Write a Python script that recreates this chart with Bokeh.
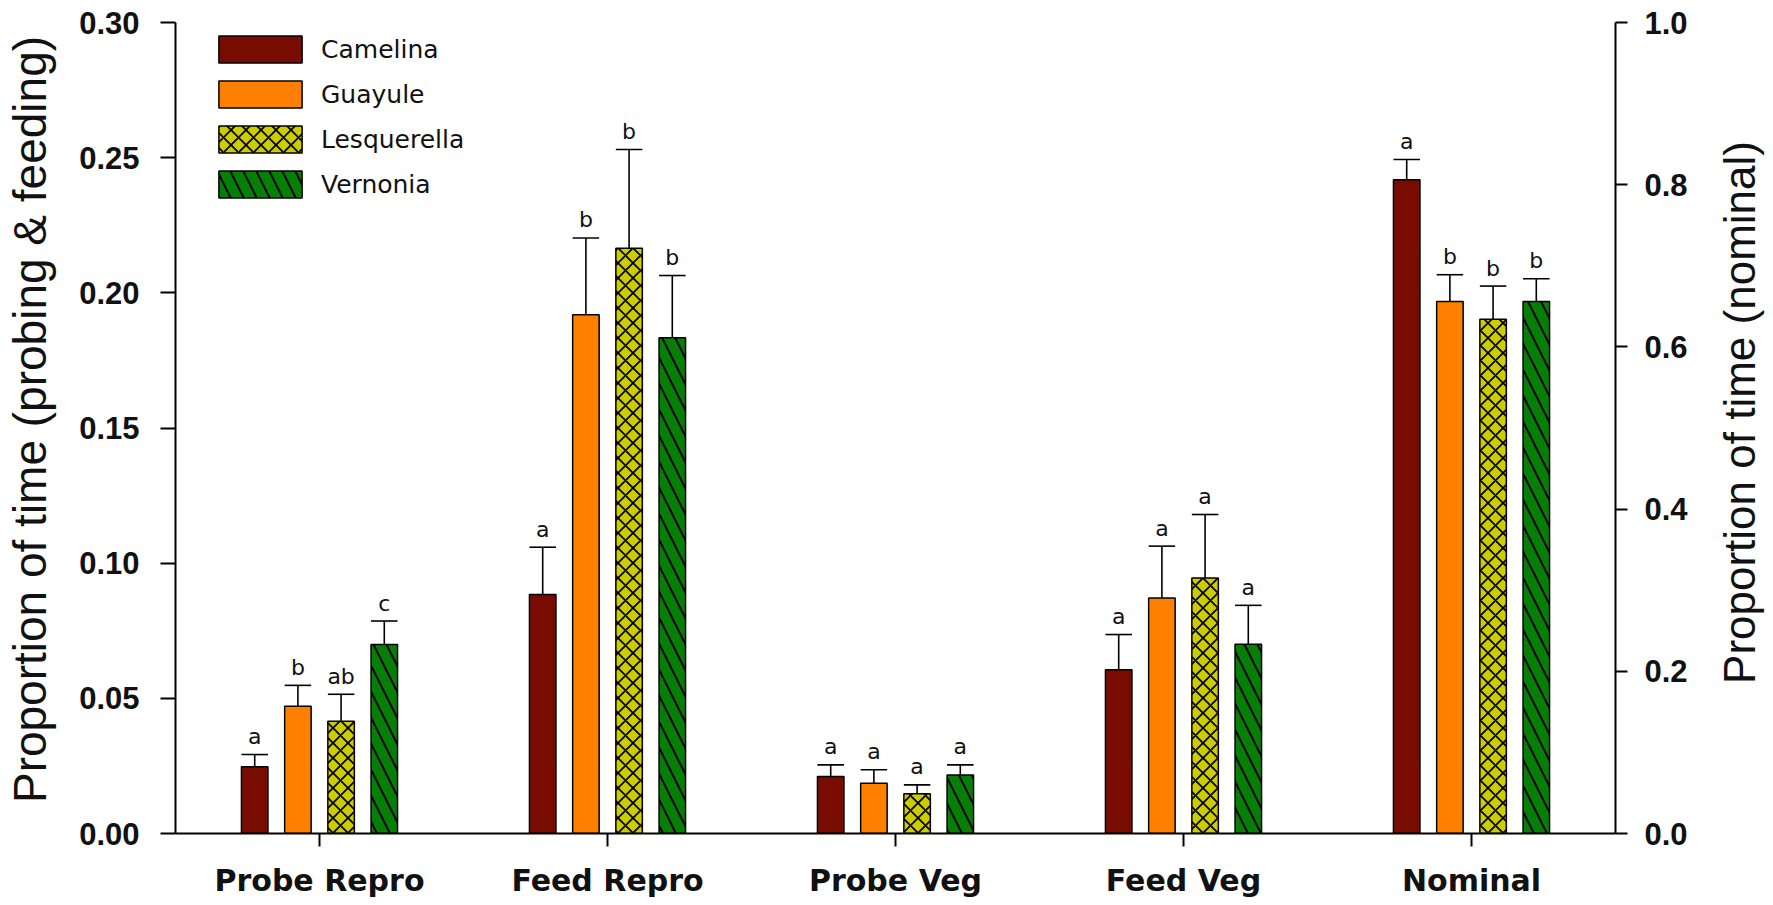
import math

from bokeh.core.properties import value
from bokeh.embed import file_html
from bokeh.layouts import row
from bokeh.models import (ColumnDataSource, FactorRange, FixedTicker, Label, Legend,
                          LegendItem, LinearAxis, NumeralTickFormatter, Range1d)
from bokeh.plotting import figure
from bokeh.resources import INLINE
from bokeh.transform import dodge

# ---- data -----------------------------------------------------------------
categories = ["Probe Repro", "Feed Repro", "Probe Veg", "Feed Veg", "Nominal"]
species = ["Camelina", "Guayule", "Lesquerella", "Vernonia"]

# mean proportion of time; the last value (Nominal) belongs to the right axis
camelina = [0.0247, 0.0884, 0.0211, 0.0606, 0.806]
guayule = [0.0471, 0.1919, 0.0186, 0.0871, 0.656]
lesquerella = [0.0415, 0.2165, 0.0147, 0.0945, 0.634]
vernonia = [0.0699, 0.1834, 0.0216, 0.0700, 0.656]

# standard errors (drawn upward only)
camelina_se = [0.0045, 0.0175, 0.0043, 0.0130, 0.025]
guayule_se = [0.0077, 0.0284, 0.0050, 0.0192, 0.033]
lesquerella_se = [0.0100, 0.0365, 0.0033, 0.0235, 0.041]
vernonia_se = [0.0087, 0.0230, 0.0038, 0.0144, 0.028]

# significance letters
camelina_letters = ["a", "a", "a", "a", "a"]
guayule_letters = ["b", "b", "a", "a", "b"]
lesquerella_letters = ["ab", "b", "a", "a", "b"]
vernonia_letters = ["c", "b", "a", "a", "b"]

left_ticks = [0.0, 0.05, 0.10, 0.15, 0.20, 0.25, 0.30]
right_ticks = [0.0, 0.2, 0.4, 0.6, 0.8, 1.0]

left_title = "Proportion of time (probing & feeding)"
right_title = "Proportion of time (nominal)"

means = [camelina, guayule, lesquerella, vernonia]
errors = [camelina_se, guayule_se, lesquerella_se, vernonia_se]
letters = [camelina_letters, guayule_letters, lesquerella_letters, vernonia_letters]

# ---- styling --------------------------------------------------------------
SANS = "Liberation Sans"
WIDE = "DejaVu Sans"
fills = ["#780c00", "#ff8000", "#cccc00", "#067f06"]
hatches = [None, None, "diagonal_cross", "left_diagonal_line"]
hatch_scales = [12, 12, 15, 26]
hatch_weights = [1, 1, 1.7, 2.0]
offsets = [-0.225, -0.075, 0.075, 0.225]
bar_w = 0.092

TOP, BOTTOM, FRAME_H = 22, 72, 811
STRIP_W = 70

p = figure(
    frame_width=1440, frame_height=FRAME_H,
    x_range=FactorRange(*categories, range_padding=0),
    y_range=Range1d(0, 0.30),
    output_backend="svg", toolbar_location=None,
    min_border_left=105, min_border_right=88,
    min_border_top=TOP, min_border_bottom=BOTTOM,
)
p.extra_y_ranges = {"nominal": Range1d(0, 1.0)}
p.xgrid.visible = False
p.ygrid.visible = False
p.outline_line_color = None
p.background_fill_color = "white"
p.border_fill_color = "white"

legend_items = []
for i, name in enumerate(species):
    for rng, sl in (("default", slice(0, 4)), ("nominal", slice(4, 5))):
        vals = means[i][sl]
        ses = errors[i][sl]
        src = ColumnDataSource(dict(
            cat=categories[sl],
            val=vals,
            hi=[v + s for v, s in zip(vals, ses)],
            lab=letters[i][sl],
        ))
        xc = dodge("cat", offsets[i], range=p.x_range)
        bar = p.vbar(
            x=xc, top="val", bottom=0, width=bar_w, source=src, y_range_name=rng,
            fill_color=fills[i], line_color="black", line_width=1.5,
            hatch_pattern=hatches[i], hatch_color="black",
            hatch_scale=hatch_scales[i], hatch_weight=hatch_weights[i],
        )
        # error stem and cap
        p.segment(x0=xc, y0="val", x1=xc, y1="hi", source=src, y_range_name=rng,
                  line_color="black", line_width=1.6)
        p.segment(x0=dodge("cat", offsets[i] - bar_w / 2, range=p.x_range), y0="hi",
                  x1=dodge("cat", offsets[i] + bar_w / 2, range=p.x_range), y1="hi",
                  source=src, y_range_name=rng, line_color="black", line_width=1.6)
        p.text(x=xc, y="hi", text="lab", source=src, y_range_name=rng,
               y_offset=-18, text_align="center", text_baseline="alphabetic",
               text_font=value(WIDE), text_font_size="22px", text_color="#111111")
        if rng == "default":
            legend_items.append(LegendItem(label=name, renderers=[bar]))

legend = Legend(
    items=legend_items, location=(33, 632),
    padding=0, margin=0, spacing=11,
    glyph_width=104, glyph_height=34, label_standoff=9,
    label_text_font=WIDE, label_text_font_size="25px", label_text_color="#111111",
    border_line_color=None, background_fill_alpha=0,
)
p.add_layout(legend)

# ---- axes -----------------------------------------------------------------
right_axis = LinearAxis(y_range_name="nominal")
p.add_layout(right_axis, "right")

p.yaxis[0].ticker = FixedTicker(ticks=left_ticks)
p.yaxis[0].formatter = NumeralTickFormatter(format="0.00")
right_axis.ticker = FixedTicker(ticks=right_ticks)
right_axis.formatter = NumeralTickFormatter(format="0.0")

for ax in (p.yaxis[0], right_axis, p.xaxis[0]):
    ax.axis_line_width = 2
    ax.axis_line_color = "black"
    ax.major_tick_line_width = 2
    ax.major_tick_line_color = "black"
    ax.major_tick_in = 0
    ax.minor_tick_line_color = None
    ax.major_label_text_font = SANS
    ax.major_label_text_font_style = "bold"
    ax.major_label_text_font_size = "31px"
    ax.major_label_text_color = "#111111"

p.xaxis[0].major_label_text_font = WIDE
p.xaxis[0].major_label_text_font_size = "30px"

p.yaxis[0].major_tick_out = 15
p.yaxis[0].major_label_standoff = 21
right_axis.major_tick_out = 12
right_axis.major_label_standoff = 17
p.xaxis[0].major_tick_out = 13
p.xaxis[0].major_label_standoff = 16


# ---- axis titles: narrow strips either side, text reading bottom to top ----
def title_strip(text, x, y_from_bottom, size):
    s = figure(
        width=STRIP_W, height=TOP + FRAME_H + BOTTOM,
        x_range=Range1d(0, 1), y_range=Range1d(0, 1),
        x_axis_location=None, y_axis_location=None,
        output_backend="svg", toolbar_location=None,
        min_border_left=0, min_border_right=0,
        min_border_top=TOP, min_border_bottom=BOTTOM,
    )
    s.outline_line_color = None
    s.background_fill_color = "white"
    s.border_fill_color = "white"
    s.grid.visible = False
    s.add_layout(Label(
        x=x, y=y_from_bottom, x_units="screen", y_units="screen",
        text=text, angle=math.pi / 2, text_align="center", text_baseline="middle",
        text_font=SANS, text_font_size=size, text_color="#111111",
    ))
    return s


left_strip = title_strip(left_title, 29, FRAME_H + TOP - 419, "46px")
right_strip = title_strip(right_title, 36, FRAME_H + TOP - 412, "44px")

layout = row(left_strip, p, right_strip)

open("out.html", "w").write(file_html(layout, INLINE))
